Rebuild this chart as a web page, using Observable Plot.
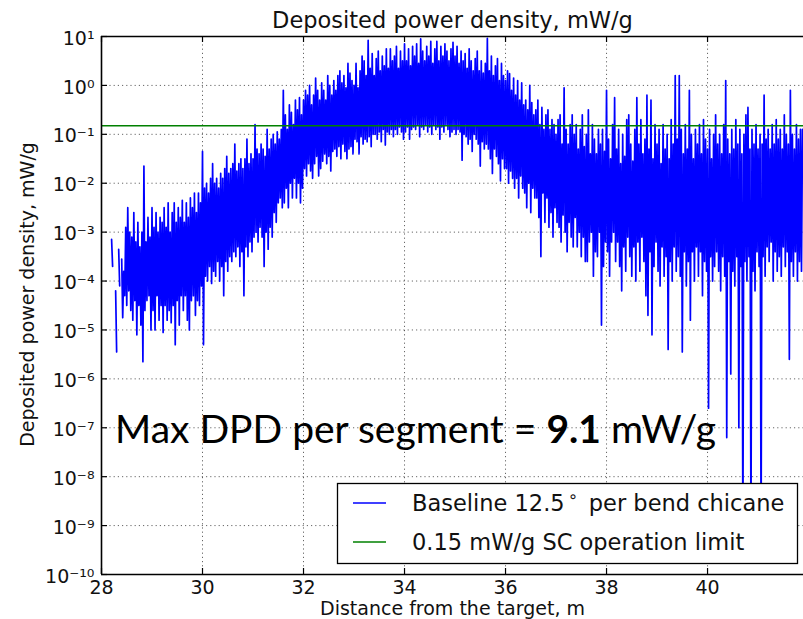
<!DOCTYPE html>
<html><head><meta charset="utf-8">
<script src="https://cdn.jsdelivr.net/npm/d3@7"></script>
<script src="https://cdn.jsdelivr.net/npm/@observablehq/plot@0.6"></script>
<style>
html,body{margin:0;padding:0;background:#fff;}
#chart{width:803px;height:619px;overflow:hidden;}
</style></head><body><div id="chart"></div>
<script>
// Distance from the target, m (sample positions)
const distance = [
28.20,28.22,28.24,28.26,28.28,28.30,28.32,28.34,28.36,28.38,
28.40,28.42,28.44,28.46,28.48,28.50,28.52,28.54,28.56,28.58,
28.60,28.62,28.64,28.66,28.68,28.70,28.72,28.74,28.76,28.78,
28.80,28.82,28.84,28.86,28.88,28.90,28.92,28.94,28.96,28.98,
29.00,29.02,29.04,29.06,29.08,29.10,29.12,29.14,29.16,29.18,
29.20,29.22,29.24,29.26,29.28,29.30,29.32,29.34,29.36,29.38,
29.40,29.42,29.44,29.46,29.48,29.50,29.52,29.54,29.56,29.58,
29.60,29.62,29.64,29.66,29.68,29.70,29.72,29.74,29.76,29.78,
29.80,29.82,29.84,29.86,29.88,29.90,29.92,29.94,29.96,29.98,
30.00,30.02,30.04,30.06,30.08,30.10,30.12,30.14,30.16,30.18,
30.20,30.22,30.24,30.26,30.28,30.30,30.32,30.34,30.36,30.38,
30.40,30.42,30.44,30.46,30.48,30.50,30.52,30.54,30.56,30.58,
30.60,30.62,30.64,30.66,30.68,30.70,30.72,30.74,30.76,30.78,
30.80,30.82,30.84,30.86,30.88,30.90,30.92,30.94,30.96,30.98,
31.00,31.02,31.04,31.06,31.08,31.10,31.12,31.14,31.16,31.18,
31.20,31.22,31.24,31.26,31.28,31.30,31.32,31.34,31.36,31.38,
31.40,31.42,31.44,31.46,31.48,31.50,31.52,31.54,31.56,31.58,
31.60,31.62,31.64,31.66,31.68,31.70,31.72,31.74,31.76,31.78,
31.80,31.82,31.84,31.86,31.88,31.90,31.92,31.94,31.96,31.98,
32.00,32.02,32.04,32.06,32.08,32.10,32.12,32.14,32.16,32.18,
32.20,32.22,32.24,32.26,32.28,32.30,32.32,32.34,32.36,32.38,
32.40,32.42,32.44,32.46,32.48,32.50,32.52,32.54,32.56,32.58,
32.60,32.62,32.64,32.66,32.68,32.70,32.72,32.74,32.76,32.78,
32.80,32.82,32.84,32.86,32.88,32.90,32.92,32.94,32.96,32.98,
33.00,33.02,33.04,33.06,33.08,33.10,33.12,33.14,33.16,33.18,
33.20,33.22,33.24,33.26,33.28,33.30,33.32,33.34,33.36,33.38,
33.40,33.42,33.44,33.46,33.48,33.50,33.52,33.54,33.56,33.58,
33.60,33.62,33.64,33.66,33.68,33.70,33.72,33.74,33.76,33.78,
33.80,33.82,33.84,33.86,33.88,33.90,33.92,33.94,33.96,33.98,
34.00,34.02,34.04,34.06,34.08,34.10,34.12,34.14,34.16,34.18,
34.20,34.22,34.24,34.26,34.28,34.30,34.32,34.34,34.36,34.38,
34.40,34.42,34.44,34.46,34.48,34.50,34.52,34.54,34.56,34.58,
34.60,34.62,34.64,34.66,34.68,34.70,34.72,34.74,34.76,34.78,
34.80,34.82,34.84,34.86,34.88,34.90,34.92,34.94,34.96,34.98,
35.00,35.02,35.04,35.06,35.08,35.10,35.12,35.14,35.16,35.18,
35.20,35.22,35.24,35.26,35.28,35.30,35.32,35.34,35.36,35.38,
35.40,35.42,35.44,35.46,35.48,35.50,35.52,35.54,35.56,35.58,
35.60,35.62,35.64,35.66,35.68,35.70,35.72,35.74,35.76,35.78,
35.80,35.82,35.84,35.86,35.88,35.90,35.92,35.94,35.96,35.98,
36.00,36.02,36.04,36.06,36.08,36.10,36.12,36.14,36.16,36.18,
36.20,36.22,36.24,36.26,36.28,36.30,36.32,36.34,36.36,36.38,
36.40,36.42,36.44,36.46,36.48,36.50,36.52,36.54,36.56,36.58,
36.60,36.62,36.64,36.66,36.68,36.70,36.72,36.74,36.76,36.78,
36.80,36.82,36.84,36.86,36.88,36.90,36.92,36.94,36.96,36.98,
37.00,37.02,37.04,37.06,37.08,37.10,37.12,37.14,37.16,37.18,
37.20,37.22,37.24,37.26,37.28,37.30,37.32,37.34,37.36,37.38,
37.40,37.42,37.44,37.46,37.48,37.50,37.52,37.54,37.56,37.58,
37.60,37.62,37.64,37.66,37.68,37.70,37.72,37.74,37.76,37.78,
37.80,37.82,37.84,37.86,37.88,37.90,37.92,37.94,37.96,37.98,
38.00,38.02,38.04,38.06,38.08,38.10,38.12,38.14,38.16,38.18,
38.20,38.22,38.24,38.26,38.28,38.30,38.32,38.34,38.36,38.38,
38.40,38.42,38.44,38.46,38.48,38.50,38.52,38.54,38.56,38.58,
38.60,38.62,38.64,38.66,38.68,38.70,38.72,38.74,38.76,38.78,
38.80,38.82,38.84,38.86,38.88,38.90,38.92,38.94,38.96,38.98,
39.00,39.02,39.04,39.06,39.08,39.10,39.12,39.14,39.16,39.18,
39.20,39.22,39.24,39.26,39.28,39.30,39.32,39.34,39.36,39.38,
39.40,39.42,39.44,39.46,39.48,39.50,39.52,39.54,39.56,39.58,
39.60,39.62,39.64,39.66,39.68,39.70,39.72,39.74,39.76,39.78,
39.80,39.82,39.84,39.86,39.88,39.90,39.92,39.94,39.96,39.98,
40.00,40.02,40.04,40.06,40.08,40.10,40.12,40.14,40.16,40.18,
40.20,40.22,40.24,40.26,40.28,40.30,40.32,40.34,40.36,40.38,
40.40,40.42,40.44,40.46,40.48,40.50,40.52,40.54,40.56,40.58,
40.60,40.62,40.64,40.66,40.68,40.70,40.72,40.74,40.76,40.78,
40.80,40.82,40.84,40.86,40.88,40.90,40.92,40.94,40.96,40.98,
41.00,41.02,41.04,41.06,41.08,41.10,41.12,41.14,41.16,41.18,
41.20,41.22,41.24,41.26,41.28,41.30,41.32,41.34,41.36,41.38,
41.40,41.42,41.44,41.46,41.48,41.50,41.52,41.54,41.56,41.58,
41.60,41.62,41.64,41.66,41.68,41.70,41.72,41.74,41.76,41.78,
41.80,41.82,41.84,41.86,41.88
];
// Deposited power density, log10(mW/g) (null = no deposit)
const logDensity = [
-3.15,-3.7,null,null,-4.2,-5.45,null,-3.35,-4.1,null,
-3.55,-4.75,-3.8,-4.3,-2.9,-4.5,-2.5,-4.2,-3.0,-4.6,
-3.1,-4.8,-2.6,-4.4,-3.2,-5.1,-2.8,-4.5,-3.3,-4.9,
-3.0,-5.65,-1.65,-4.6,-3.2,-4.4,-2.7,-4.3,-3.1,-5.0,
-2.5,-4.6,-2.9,-5.0,-2.6,-4.3,-3.0,-4.8,-2.7,-4.5,
-2.8,-5.05,-2.5,-4.5,-2.9,-4.8,-2.4,-4.6,-3.0,-4.85,
-2.6,-4.5,-2.4,-5.3,-2.8,-4.4,-2.5,-4.9,-2.7,-4.3,
-2.35,-4.6,-2.8,-4.3,-2.4,-4.8,-2.7,-5.0,-2.3,-4.4,
-2.5,-4.3,-2.2,-4.7,-2.6,-4.4,-2.2,-4.5,-2.4,-4.1,
-1.35,-5.3,-2.1,-3.9,-2.0,-4.0,-2.2,-3.7,-1.9,-4.05,
-1.6,-3.8,-2.0,-3.9,-1.9,-3.6,-2.1,-4.0,-1.8,-3.7,
-1.9,-4.3,-1.7,-3.6,-1.45,-3.8,-1.8,-3.5,-1.7,-3.6,
-1.6,-3.4,-1.2,-3.5,-1.75,-3.3,-1.6,-3.7,-1.5,-3.4,
-1.7,-4.3,-1.5,-3.3,-1.1,-3.5,-1.6,-3.2,-1.4,-3.4,
-1.5,-3.1,-0.8,-3.0,-1.3,-3.2,-1.4,-2.9,-1.2,-3.1,
-1.3,-3.7,-1.45,-3.0,-0.9,-3.35,-1.3,-2.9,-1.1,-3.1,
-1.0,-2.6,-1.2,-2.8,-0.95,-2.4,-1.1,-2.3,-0.9,-2.5,
-0.1,-2.4,-0.6,-2.1,-0.9,-2.5,-0.4,-2.0,-0.55,-2.3,
-0.8,-1.9,-0.3,-2.3,-0.5,-2.0,-0.25,-2.4,-0.6,-2.1,
-0.3,-1.7,-0.1,-1.85,-0.2,-1.6,0.0,-1.75,-0.4,-1.9,
-0.2,-1.6,0.15,-1.45,-0.1,-1.85,-0.3,-1.7,0.05,-1.55,
-0.1,-1.4,-0.3,-1.6,0.2,-1.45,0.0,-1.75,-0.2,-1.35,
0.1,-1.3,-0.1,-1.45,0.2,-1.25,0.3,-1.5,0.05,-1.2,
0.2,-1.35,-0.05,-1.5,0.45,-1.3,0.25,-1.25,0.1,-1.4,
0.0,-1.1,0.45,-1.15,-0.05,-1.4,0.3,-1.05,0.6,-1.2,
0.5,-1.1,0.2,-1.15,0.92,-1.05,0.35,-1.25,0.65,-1.0,
0.2,-1.0,0.55,-1.1,0.7,-0.95,0.3,-1.15,0.6,-0.9,
0.4,-1.22,0.75,-0.95,0.35,-1.0,0.75,-0.9,0.5,-1.05,
0.6,-0.9,0.8,-1.0,0.35,-0.85,0.7,-0.95,0.5,-1.1,
0.85,-0.95,0.5,-0.85,0.75,-1.1,0.4,-0.9,0.8,-0.85,
0.6,-0.9,0.85,-0.8,0.45,-1.05,0.95,-0.85,0.7,-0.9,
0.5,-0.8,0.8,-0.95,0.6,-0.85,0.9,-1.0,0.45,-0.8,
0.75,-0.9,0.9,-0.85,0.5,-1.1,0.8,-0.85,0.6,-0.95,
0.85,-0.8,0.7,-0.9,0.5,-1.05,0.75,-0.95,0.88,-0.9,
0.6,-1.0,0.8,-0.9,0.45,-0.95,0.7,-1.53,0.5,-1.0,
0.65,-1.05,0.35,-1.2,0.75,-1.1,0.5,-1.35,0.3,-1.0,
0.55,-1.1,0.7,-1.2,0.3,-1.65,0.5,-1.15,0.25,-1.3,
0.45,-1.2,0.96,-1.3,0.3,-1.5,0.6,-1.8,0.2,-1.3,
0.4,-1.45,0.55,-1.6,0.1,-1.95,0.45,-1.5,0.2,-1.7,
0.1,-1.7,0.3,-2.0,0.24,-1.75,-0.1,-1.9,0.15,-2.1,
-0.2,-1.9,0.1,-2.3,-0.3,-1.85,0.05,-2.1,-0.4,-2.2,
-0.3,-2.5,-0.5,-2.0,0.0,-2.6,-0.35,-2.1,-0.6,-2.3,
-0.5,-2.3,-0.3,-2.7,-0.8,-3.5,-0.45,-2.2,-0.9,-2.8,
-0.6,-2.3,-0.5,-2.9,-0.9,-2.6,-0.7,-3.1,-0.8,-2.5,
-1.0,-2.8,-0.7,-2.9,-0.6,-3.2,-1.2,-2.65,-0.05,-3.0,
-0.9,-3.4,-1.2,-2.8,-0.8,-3.1,-0.6,-3.3,-1.0,-2.7,
-0.8,-3.3,-1.3,-3.0,-0.9,-3.5,-0.6,-3.1,-1.25,-3.6,
-1.0,-3.6,-0.5,-3.2,-1.4,-3.0,-0.8,-3.9,-1.1,-3.4,
-1.4,-3.5,-0.9,-3.0,-1.2,-4.9,-0.9,-3.7,-1.35,-3.2,
-0.1,-3.4,-1.1,-3.9,-1.5,-3.2,-0.8,-3.0,-0.25,-3.6,
-1.3,-3.2,-0.9,-3.7,-1.6,-4.2,-1.0,-3.3,-1.45,-3.8,
-0.7,-3.1,-0.6,-3.5,-1.2,-3.9,-1.55,-3.3,-0.9,-4.0,
-0.25,-3.2,-1.2,-3.8,-0.7,-3.1,-1.4,-3.6,-1.1,-4.3,
-0.2,-4.7,-1.3,-3.4,-0.3,-5.1,-1.5,-3.7,-0.8,-3.2,
-1.2,-3.8,-0.9,-4.1,-1.6,-3.3,-0.8,-3.9,-1.3,-3.5,
-1.0,-5.4,-1.5,-3.6,-0.7,-4.0,-1.2,-3.3,0.2,-3.8,
-1.1,-3.5,0.2,-3.9,-0.9,-5.45,-1.4,-3.4,-0.8,-4.1,
-1.3,-3.6,-0.1,-4.8,-1.0,-3.4,-1.5,-4.0,-0.9,-3.3,
-1.2,-3.9,-0.8,-3.4,-1.4,-4.3,-0.7,-3.6,-1.1,-3.8,
-1.3,-6.6,-0.9,-3.5,-1.5,-4.0,-1.0,-3.7,-0.6,-3.4,
-1.2,-3.8,-1.0,-4.2,-1.4,-3.5,-0.8,-3.9,0.1,-7.2,
-1.1,-3.6,-1.4,-5.9,-0.9,-3.8,-1.3,-4.1,-0.7,-3.5,
-1.2,-7.0,-0.9,-3.7,-1.4,-9.3,-1.0,-3.6,-0.6,-4.0,
-0.45,-3.5,-1.3,-9.3,-0.9,-3.8,-1.2,-4.2,-0.8,-3.4,
-1.3,-3.7,-1.0,-9.3,-1.2,-3.5,-0.2,-3.9,-1.1,-3.3,
-0.9,-3.6,-1.3,-3.2,-0.8,-4.0,-1.2,-3.4,-0.7,-3.8,
-1.1,-3.5,-0.9,-3.9,-1.3,-3.3,-0.6,-3.7,-1.0,-3.4,
-1.2,-5.6,-0.1,-3.6,-1.0,-3.9,-1.3,-3.4,-0.8,-4.0,
-1.1,-3.6,-0.9,-3.8,-0.9
];
const limitValue = [0.15];           // mW/g SC operation limit
const xTicks = [28, 30, 32, 34, 36, 38, 40];
const yTicks = [1e-10, 1e-9, 1e-8, 1e-7, 1e-6, 1e-5, 1e-4, 1e-3, 1e-2, 1e-1, 1e0, 1e1];
const yTickLabels = ["10⁻¹⁰","10⁻⁹","10⁻⁸","10⁻⁷","10⁻⁶","10⁻⁵","10⁻⁴","10⁻³","10⁻²","10⁻¹","10⁰","10¹"];
const xDomain = [28, 41.9];
const yDomain = [1e-10, 10];
const titleText = "Deposited power density, mW/g";
const xLabel = "Distance from the target, m";
const yLabel = "Deposited power density, mW/g";
const legendLabels = ["Baseline 12.5", "0.15 mW/g SC operation limit"];
const annotation = ["Max DPD per segment = ", "9.1", " mW/g"];

const data = distance.map((x, i) => ({x, v: logDensity[i] == null ? NaN : Math.pow(10, logDensity[i])}));
const yLabelMap = new Map(yTicks.map((t, i) => [t, yTickLabels[i]]));

const W = 803, H = 619, mL = 101, mR = 0, mT = 36, mB = 45;
const pW = W - mL - mR, pH = H - mT - mB;
const font = "DejaVu Sans, Bitstream Vera Sans, sans-serif";
const gridStyle = {stroke: "#000", strokeOpacity: 0.6, strokeWidth: 1, strokeDasharray: "1.2,3"};

const plot = Plot.plot({
  width: W, height: H,
  marginLeft: mL, marginRight: mR, marginTop: mT, marginBottom: mB,
  style: {fontFamily: font, fontSize: "19px", background: "#fff", color: "#111"},
  x: {domain: xDomain, label: null},
  y: {type: "log", domain: yDomain, label: null},
  marks: [
    Plot.gridX(xTicks, gridStyle),
    Plot.gridY(yTicks, gridStyle),
    Plot.line(data, {x: "x", y: "v", stroke: "#0000ff", strokeWidth: 1.7, clip: true}),
    Plot.ruleY(limitValue, {stroke: "#008000", strokeWidth: 1.6}),
    Plot.tickX(xTicks, {x: d => d, insetTop: pH - 6, stroke: "#000", strokeWidth: 1.2}),
    Plot.tickX(xTicks, {x: d => d, insetBottom: pH - 6, stroke: "#000", strokeWidth: 1.2}),
    Plot.tickY(yTicks, {y: d => d, insetRight: pW - 6, stroke: "#000", strokeWidth: 1.2}),
    Plot.ruleX([xDomain[0]], {stroke: "#000", strokeWidth: 1.6}),
    Plot.ruleY(yDomain, {stroke: "#000", strokeWidth: 1.6}),
    Plot.axisX(xTicks, {tickSize: 0, tickPadding: 6, label: null, fontSize: 19, fill: "#111"}),
    Plot.axisY(yTicks, {tickSize: 0, tickPadding: 7, label: null, fontSize: 19, fill: "#111", dy: 2,
      tickFormat: d => yLabelMap.get(d)}),
    Plot.text([titleText], {frameAnchor: "top", lineAnchor: "middle", dy: -16, fontSize: 22.5, fill: "#111"}),
    Plot.text([xLabel], {frameAnchor: "bottom", lineAnchor: "middle", dy: 34, fontSize: 19, fill: "#111"}),
    Plot.text([yLabel], {frameAnchor: "left", textAnchor: "middle", lineAnchor: "middle", rotate: -90, dx: -74, dy: -11, fontSize: 19, fill: "#111"})
  ]
});

const svg = d3.select(plot);
// Legend box
const lg = svg.append("g").attr("font-family", font).attr("font-size", 22.5).attr("fill", "#111")
  .attr("text-anchor", "start");
lg.append("rect").attr("x", 337.5).attr("y", 483.5).attr("width", 460).attr("height", 80)
  .attr("fill", "#fff").attr("stroke", "#000").attr("stroke-width", 1.3);
lg.append("line").attr("x1", 353).attr("x2", 386).attr("y1", 503).attr("y2", 503).attr("stroke", "#0000ff").attr("stroke-width", 1.5);
lg.append("line").attr("x1", 353).attr("x2", 386).attr("y1", 542).attr("y2", 542).attr("stroke", "#008000").attr("stroke-width", 1.5);
const t1 = lg.append("text").attr("x", 412).attr("y", 511);
t1.append("tspan").text(legendLabels[0]);
t1.append("tspan").attr("font-size", 16).attr("dx", 3).attr("dy", -9).text("∘");
t1.append("tspan").attr("dx", 4).attr("dy", 9).text(" per bend chicane");
lg.append("text").attr("x", 412).attr("y", 550).text(legendLabels[1]);
// Annotation
const an = svg.append("text").attr("x", 115).attr("y", 443).attr("text-anchor", "start")
  .attr("font-family", "Lato, sans-serif").attr("font-size", 39).attr("fill", "#000");
an.append("tspan").text(annotation[0]);
an.append("tspan").attr("font-weight", "bold").text(annotation[1]);
an.append("tspan").text(annotation[2]);

document.getElementById("chart").appendChild(plot);
</script>
</body></html>
